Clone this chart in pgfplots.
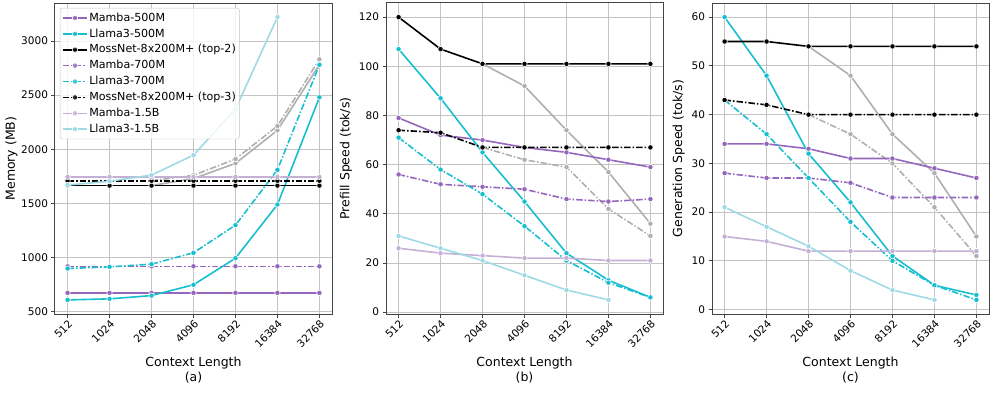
\documentclass[border=0pt]{standalone}
\usepackage{fontspec}
\setmainfont{DejaVu Sans}
\usepackage{pgfplots}
\pgfplotsset{compat=1.18}

\definecolor{cmamba}{HTML}{9467BD}
\definecolor{cllama}{HTML}{17BECF}
\definecolor{cmambal}{HTML}{C5B0D5}
\definecolor{cllamal}{HTML}{9EDAE5}
\definecolor{cgray}{HTML}{AFAFAF}
\definecolor{gridc}{HTML}{C4C4C4}
\definecolor{framec}{HTML}{444444}

\newcommand{\tfont}{\fontsize{10.5}{12}\selectfont}
\newcommand{\gfont}{\fontsize{11.1}{13}\selectfont}
\newcommand{\lfont}{\fontsize{12.5}{15}\selectfont}

\pgfplotsset{
  ser/.style={color=#1, line width=1.6pt, mark=*, mark size=2.7pt,
    mark options={solid, fill=#1, draw=white, line width=0.6pt}},
  dd/.style={dash pattern=on 6.5pt off 2pt on 1.5pt off 2pt},
  panel/.style={
    scale only axis, width=277pt, height=311pt, anchor=south west,
    xmin=-0.3, xmax=6.3, xtick={0,...,6},
    xticklabels={512,1024,2048,4096,8192,16384,32768},
    xticklabel style={rotate=45, anchor=north east, font=\tfont, inner sep=1pt},
    yticklabel style={font=\tfont},
    grid=major, major grid style={color=gridc, line width=0.8pt},
    axis line style={color=framec, line width=1pt},
    tick pos=left, tick align=outside, major tick length=3.5pt,
    tick style={color=framec, line width=0.8pt},
    label style={font=\lfont},
    xlabel style={align=center, yshift=-4pt},
    /pgf/number format/assume math mode=true,
    /pgf/number format/1000 sep={},
  },
}

\begin{document}
\begin{tikzpicture}
\useasboundingbox (0,-393pt) rectangle (996pt,0);

% (a) memory
\begin{axis}[panel, at={(55pt,-314pt)},
    ymin=480, ymax=3350, ytick={500,1000,...,3000},
    xlabel={Context Length\\(a)}, ylabel={Memory (MB)},
    ylabel style={yshift=-3pt},
    legend cell align=left,
    legend style={at={(0.018,0.984)}, anchor=north west, font=\gfont,
      draw=gridc, rounded corners=2pt, fill=white, fill opacity=0.8, text opacity=1,
      row sep=0.4pt, inner sep=2pt,
      nodes={inner sep=1.5pt, text height=9.5pt, text depth=3pt}},
    legend image code/.code={\draw[mark repeat=2,mark phase=2] plot coordinates {(0pt,0pt) (12pt,0pt) (24pt,0pt)};},
]
\addplot[ser=cgray, forget plot] coordinates {(2,1665) (3,1730) (4,1870) (5,2175) (6,2780)};
\addplot[ser=cgray, dd, forget plot] coordinates {(2,1710) (3,1760) (4,1910) (5,2215) (6,2830)};
\addplot[ser=cmamba] coordinates {(0,675) (1,675) (2,675) (3,675) (4,675) (5,675) (6,675)};
\addplot[ser=cllama] coordinates {(0,610) (1,620) (2,650) (3,750) (4,995) (5,1490) (6,2480)};
\addplot[ser=black] coordinates {(0,1665) (1,1665) (2,1665) (3,1665) (4,1665) (5,1665) (6,1665)};
\addplot[ser=cmamba, dd] coordinates {(0,920) (1,920) (2,920) (3,920) (4,920) (5,920) (6,920)};
\addplot[ser=cllama, dd] coordinates {(0,900) (1,915) (2,940) (3,1045) (4,1300) (5,1810) (6,2780)};
\addplot[ser=black, dd] coordinates {(0,1710) (1,1710) (2,1710) (3,1710) (4,1710) (5,1710) (6,1710)};
\addplot[ser=cmambal] coordinates {(0,1745) (1,1745) (2,1745) (3,1745) (4,1745) (5,1745) (6,1745)};
\addplot[ser=cllamal] coordinates {(0,1670) (1,1705) (2,1762) (3,1946) (4,2370) (5,3220)};
\legend{Mamba-500M, Llama3-500M, MossNet-8x200M+ (top-2), Mamba-700M, Llama3-700M, MossNet-8x200M+ (top-3), Mamba-1.5B, Llama3-1.5B}
\end{axis}

% (b) prefill speed
\begin{axis}[panel, at={(386pt,-314pt)},
    ymin=-0.75, ymax=125.75, ytick={0,20,...,120},
    xlabel={Context Length\\(b)}, ylabel={Prefill Speed (tok/s)},
]
\addplot[ser=cgray] coordinates {(2,101) (3,92) (4,74) (5,57) (6,36)};
\addplot[ser=cgray, dd] coordinates {(2,67) (3,62) (4,59) (5,42) (6,31)};
\addplot[ser=cmamba] coordinates {(0,79) (1,72) (2,70) (3,67) (4,65) (5,62) (6,59)};
\addplot[ser=cllama] coordinates {(0,107) (1,87) (2,65) (3,45) (4,24) (5,13) (6,6)};
\addplot[ser=black] coordinates {(0,120) (1,107) (2,101) (3,101) (4,101) (5,101) (6,101)};
\addplot[ser=cmamba, dd] coordinates {(0,56) (1,52) (2,51) (3,50) (4,46) (5,45) (6,46)};
\addplot[ser=cllama, dd] coordinates {(0,71) (1,58) (2,48) (3,35) (4,21) (5,12) (6,6)};
\addplot[ser=black, dd] coordinates {(0,74) (1,73) (2,67) (3,67) (4,67) (5,67) (6,67)};
\addplot[ser=cmambal] coordinates {(0,26) (1,24) (2,23) (3,22) (4,22) (5,21) (6,21)};
\addplot[ser=cllamal] coordinates {(0,31) (1,26) (2,21) (3,15) (4,9) (5,5)};
\end{axis}

% (c) generation speed
\begin{axis}[panel, at={(712pt,-314pt)},
    ymin=-0.9, ymax=62.9, ytick={0,10,...,60},
    xlabel={Context Length\\(c)}, ylabel={Generation Speed (tok/s)},
]
\addplot[ser=cgray] coordinates {(2,54) (3,48) (4,36) (5,28) (6,15)};
\addplot[ser=cgray, dd] coordinates {(2,40) (3,36) (4,30) (5,21) (6,11)};
\addplot[ser=cmamba] coordinates {(0,34) (1,34) (2,33) (3,31) (4,31) (5,29) (6,27)};
\addplot[ser=cllama] coordinates {(0,60) (1,48) (2,32) (3,22) (4,11) (5,5) (6,3)};
\addplot[ser=black] coordinates {(0,55) (1,55) (2,54) (3,54) (4,54) (5,54) (6,54)};
\addplot[ser=cmamba, dd] coordinates {(0,28) (1,27) (2,27) (3,26) (4,23) (5,23) (6,23)};
\addplot[ser=cllama, dd] coordinates {(0,43) (1,36) (2,27) (3,18) (4,10) (5,5) (6,2)};
\addplot[ser=black, dd] coordinates {(0,43) (1,42) (2,40) (3,40) (4,40) (5,40) (6,40)};
\addplot[ser=cmambal] coordinates {(0,15) (1,14) (2,12) (3,12) (4,12) (5,12) (6,12)};
\addplot[ser=cllamal] coordinates {(0,21) (1,17) (2,13) (3,8) (4,4) (5,2)};
\end{axis}
\end{tikzpicture}
\end{document}
